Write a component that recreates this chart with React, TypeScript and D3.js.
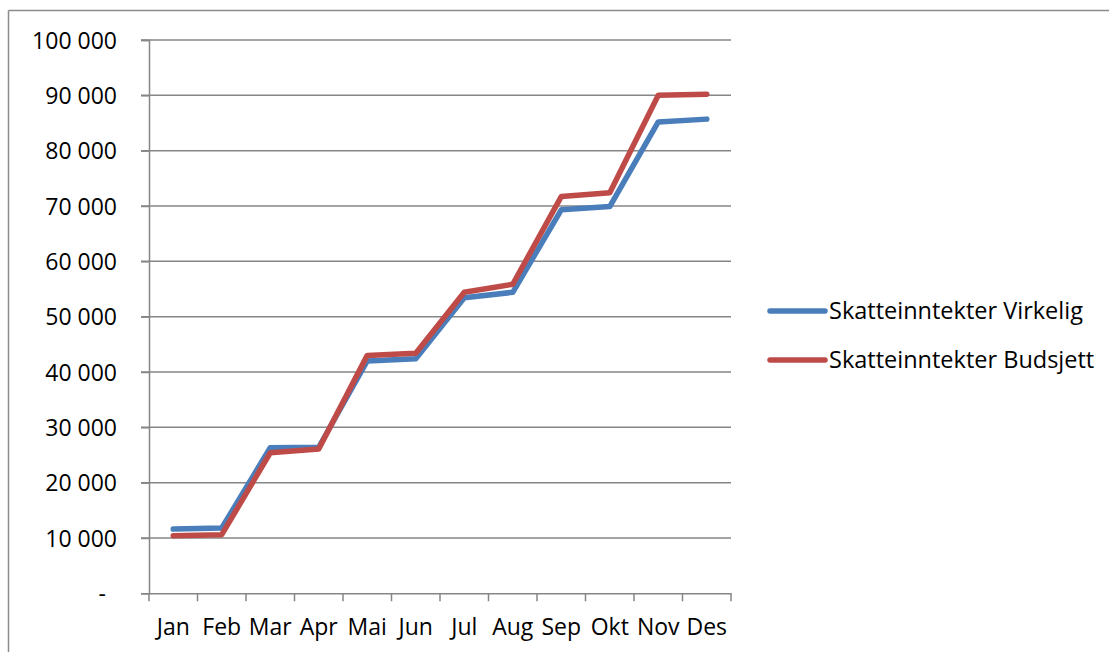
import React, { useRef, useEffect } from 'react';
import * as d3 from 'd3';

const months = ['Jan', 'Feb', 'Mar', 'Apr', 'Mai', 'Jun', 'Jul', 'Aug', 'Sep', 'Okt', 'Nov', 'Des'];
const virkelig = [11600, 11800, 26300, 26400, 42000, 42400, 53400, 54400, 69300, 69900, 85200, 85700];
const budsjett = [10400, 10600, 25400, 26100, 43000, 43400, 54400, 55850, 71700, 72400, 90000, 90200];
const yTicks = [0, 10000, 20000, 30000, 40000, 50000, 60000, 70000, 80000, 90000, 100000];
const seriesNames = ['Skatteinntekter Virkelig', 'Skatteinntekter Budsjett'];
const seriesColors = ['#4a7ebb', '#be4b48'];

const W = 1109;
const H = 652;
const FONT = '"Open Sans", sans-serif';

export default function App() {
  const svgRef = useRef(null);

  useEffect(() => {
    const svg = d3.select(svgRef.current);
    svg.selectAll('*').remove();

    const left = 149, right = 731, top = 40, bottom = 593.3;

    // outer chart border (only top and left visible)
    svg.append('line').attr('x1', 8.5).attr('x2', W).attr('y1', 10.5).attr('y2', 10.5)
      .attr('stroke', '#8c8c8c').attr('stroke-width', 1.5);
    svg.append('line').attr('x1', 8.5).attr('x2', 8.5).attr('y1', 10.5).attr('y2', H)
      .attr('stroke', '#8c8c8c').attr('stroke-width', 1.5);

    const x = d3.scaleBand().domain(months).range([left, right]);
    const y = d3.scaleLinear().domain([0, 100000]).range([bottom, top]);

    // gridlines
    svg.append('g').selectAll('line').data(yTicks.filter(d => d > 0)).enter().append('line')
      .attr('x1', left - 8).attr('x2', right)
      .attr('y1', d => y(d)).attr('y2', d => y(d))
      .attr('stroke', '#868686').attr('stroke-width', 1.5);

    // y axis
    const yAxis = svg.append('g').attr('transform', `translate(${left},0)`)
      .call(d3.axisLeft(y).tickValues(yTicks).tickSize(8).tickPadding(24)
        .tickFormat(d => (d === 0 ? '-' : d3.format(',')(d).replace(/,/g, ' '))));
    yAxis.select('.domain').attr('stroke', '#868686').attr('stroke-width', 1.5);
    yAxis.selectAll('.tick line').attr('stroke', '#868686').attr('stroke-width', 1.5);
    yAxis.selectAll('.tick text').attr('font-family', FONT).attr('font-size', 23).attr('fill', '#000')
      .attr('dy', '0.36em')
      .attr('dx', d => (d === 0 ? -11 : 0));

    // x axis
    const xAxis = svg.append('g').attr('transform', `translate(0,${bottom})`)
      .call(d3.axisBottom(x).tickSize(0).tickPadding(25));
    xAxis.select('.domain').attr('stroke', '#868686').attr('stroke-width', 1.5);
    xAxis.selectAll('.tick text').attr('font-family', FONT).attr('font-size', 23).attr('fill', '#000');
    // category boundary ticks
    const bounds = months.map(m => x(m)).concat([right]);
    xAxis.append('g').selectAll('line').data(bounds).enter().append('line')
      .attr('x1', d => d).attr('x2', d => d).attr('y1', 0).attr('y2', 8)
      .attr('stroke', '#868686').attr('stroke-width', 1.5);

    // lines
    const line = d3.line<number>()
      .x((d, i) => x(months[i]) + x.bandwidth() / 2)
      .y(d => y(d));
    [virkelig, budsjett].forEach((s, i) => {
      svg.append('path').datum(s).attr('d', line)
        .attr('fill', 'none').attr('stroke', seriesColors[i]).attr('stroke-width', 5.5)
        .attr('stroke-linejoin', 'round').attr('stroke-linecap', 'round');
    });

    // legend
    const legend = svg.append('g').attr('transform', 'translate(770,311)');
    seriesNames.forEach((name, i) => {
      const g = legend.append('g').attr('transform', `translate(0,${i * 49})`);
      g.append('line').attr('x1', 0).attr('x2', 55).attr('y1', 0).attr('y2', 0)
        .attr('stroke', seriesColors[i]).attr('stroke-width', 5.5).attr('stroke-linecap', 'round');
      g.append('text').attr('x', 59).attr('y', 0).attr('dy', '0.36em')
        .attr('font-family', FONT).attr('font-size', 23.5).attr('fill', '#000').text(name);
    });
  }, []);

  return (
    <svg ref={svgRef} width={W} height={H}
      style={{ position: 'absolute', left: 0, top: 0, background: '#fff' }} />
  );
}
